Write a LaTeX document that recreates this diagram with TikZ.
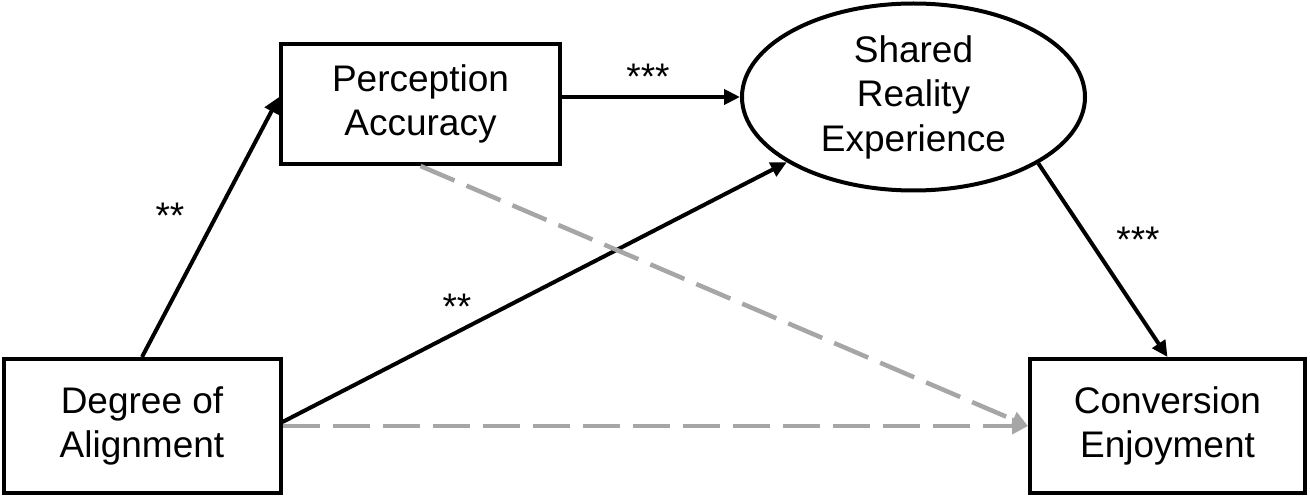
\documentclass[tikz,border=0pt]{standalone}
\usepackage{fontspec}
\setmainfont{Liberation Sans}
\usetikzlibrary{arrows.meta,shapes.geometric}
\definecolor{dashgray}{HTML}{A6A6A6}
\tikzset{
  boxnode/.style={draw=black, line width=4pt, rectangle, align=center,
    font=\fontsize{37}{44.5}\selectfont, inner sep=0pt},
  ellnode/.style={draw=black, line width=4pt, ellipse, align=center,
    font=\fontsize{37}{44.5}\selectfont, inner sep=0pt},
  solidarrow/.style={line width=4pt, draw=black,
    -{Triangle[length=16pt,width=15pt]}},
  grayarrow/.style={line width=4.5pt, draw=dashgray, dash pattern=on 37pt off 13pt,
    -{Triangle[length=16pt,width=16pt,fill=dashgray]}},
  starlabel/.style={font=\fontsize{37}{44.5}\selectfont, inner sep=0pt}
}
\begin{document}
\begin{tikzpicture}[x=1pt,y=-1pt]
\useasboundingbox (0,0) rectangle (1310,497);
\node[boxnode, minimum width=277pt, minimum height=134pt] (DA) at (142,426) {Degree of\\Alignment};
\node[boxnode, minimum width=279pt, minimum height=120pt] (PA) at (420.5,104) {Perception\\Accuracy};
\node[ellnode, minimum width=343pt, minimum height=187pt] (SR) at (913.5,97) {Shared\\Reality\\Experience};
\node[boxnode, minimum width=275pt, minimum height=134pt] (CE) at (1167.5,426) {Conversion\\Enjoyment};

\draw[solidarrow] (DA.north) -- ([yshift=7pt]PA.west);
\draw[solidarrow] ([yshift=7pt]PA.east) -- (SR.west);
\draw[solidarrow] ([yshift=4pt]DA.east) -- (SR);
\draw[solidarrow] (SR.332) -- (CE.north);
\draw[grayarrow] (PA.south) -- (CE.west);
\draw[grayarrow] (DA.east) -- (CE.west);

\node[starlabel] (l1) at (170,216) {**};
\node[starlabel] (l2) at (648,77) {***};
\node[starlabel] (l3) at (457,307) {**};
\node[starlabel] (l4) at (1138,240) {***};
\end{tikzpicture}
\end{document}
